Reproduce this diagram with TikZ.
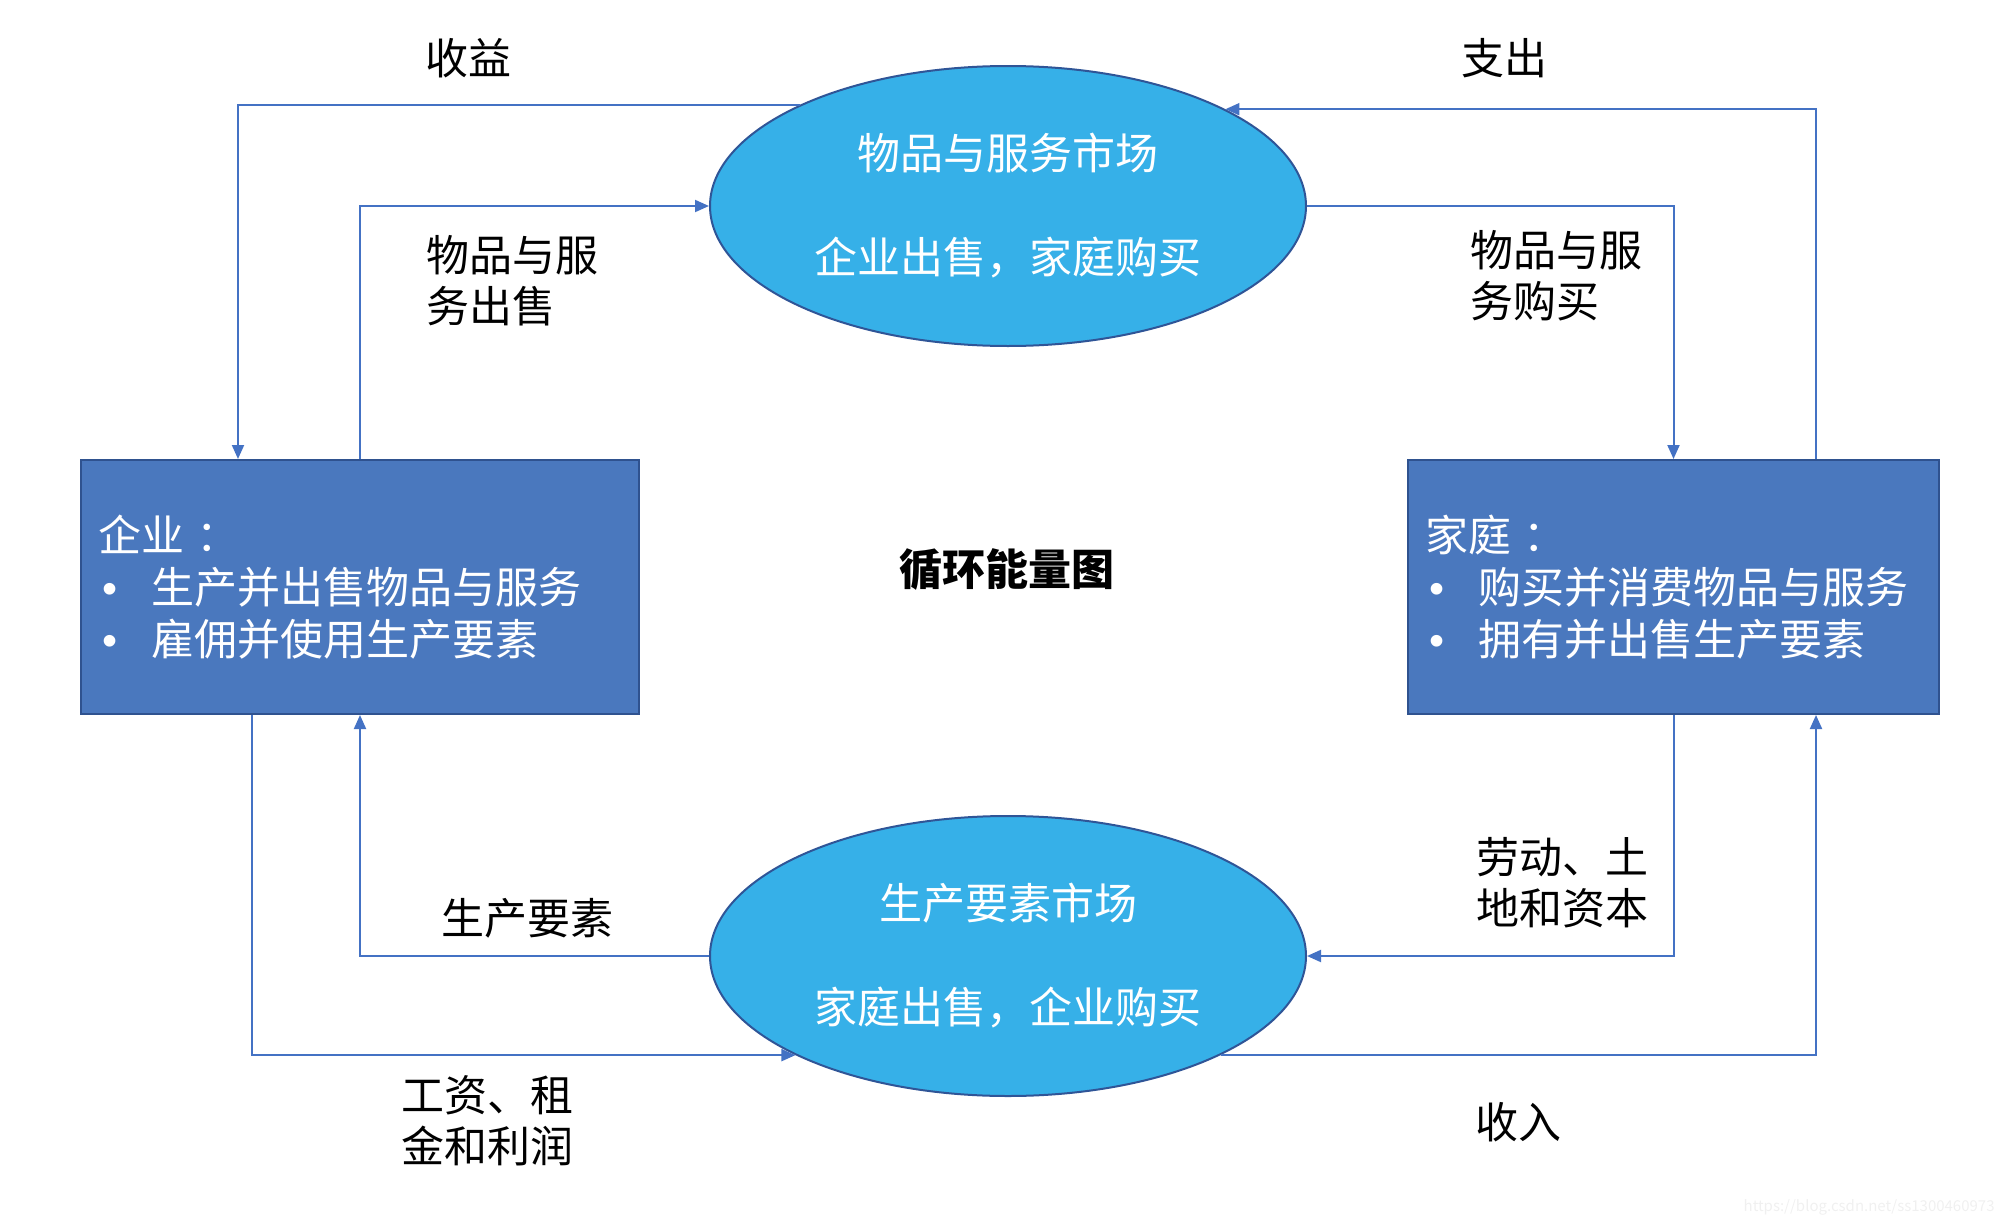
\documentclass[tikz,border=0pt]{standalone}
\usepackage{fontspec}
\setmainfont{Noto Sans CJK SC}
\newfontfamily\bulfont{Liberation Sans}
\usepackage{xcolor}
\usepackage{tikz}
\usetikzlibrary{positioning,arrows.meta,shapes.geometric}
\definecolor{mktblue}{RGB}{54,176,232}
\definecolor{mktline}{RGB}{47,85,151}
\definecolor{boxblue}{RGB}{74,120,190}
\definecolor{boxline}{RGB}{47,82,143}
\definecolor{flow}{RGB}{68,114,196}
\newcommand{\bul}{\makebox[26.5pt][l]{\hspace{2pt}\bulfont •}}

\begin{document}
\begin{tikzpicture}[x=0.5pt, y=-0.5pt,
  font=\fontsize{21.5pt}{26pt}\selectfont,
  mkt/.style={ellipse, draw=mktline, fill=mktblue, line width=1pt, minimum width=298pt, minimum height=140pt, inner sep=0pt, text=white, align=center},
  agent/.style={draw=boxline, fill=boxblue, line width=1pt, minimum height=127pt, inner xsep=8.75pt, text=white, align=left},
  lbl/.style={inner sep=0pt, align=left, font=\fontsize{21.5pt}{25.5pt}\selectfont},
  arr/.style={draw=flow, line width=1pt, -{Triangle[length=7pt, width=6pt]}}]
\useasboundingbox (0,0) rectangle (2004,1226);
\node[mkt] (goods) at (1008,206) {物品与服务市场\\[26pt]企业出售，家庭购买};
\node[mkt] (factor) at (1008,956) {生产要素市场\\[26pt]家庭出售，企业购买};
\node[agent, text width=261.5pt] (firm) at (360,587) {企业\hspace{6pt}：\\\bul 生产并出售物品与服务\\\bul 雇佣并使用生产要素};
\node[agent, text width=248pt] (house) at (1673.5,587) {家庭\hspace{6pt}：\\\bul 购买并消费物品与服务\\\bul 拥有并出售生产要素};
\node[font=\fontsize{21.5pt}{26pt}\selectfont\bfseries] (title) at (1007,569) {循环能量图};
\node[lbl] (rev) at (468,58) {收益};
\node[lbl] (spend) at (1504,58) {支出};
\node[lbl, anchor=west] (sold) at (426,281) {物品与服\\务出售};
\node[lbl, anchor=west] (bought) at (1470,276) {物品与服\\务购买};
\node[lbl] (fac) at (527,918) {生产要素};
\node[lbl, anchor=west] (labor) at (1476,883) {劳动、土\\地和资本};
\node[lbl, anchor=west] (wage) at (401,1121) {工资、租\\金和利润};
\node[lbl] (inc) at (1518,1122) {收入};
\node[inner sep=0pt, anchor=east, text=gray!12, font=\fontsize{7.5pt}{9pt}\selectfont] (url) at (1995,1207) {https://blog.csdn.net/ss1300460973};
\draw[arr] (goods.154) -| ([xshift=-61pt]firm.north);
\draw[arr] (firm.north) |- (goods.west);
\draw[arr] (goods.east) -| (house.north);
\draw[arr] ([xshift=71.25pt]house.north) |- (goods.24);
\draw[arr] (factor.west) -| (firm.south);
\draw[arr] ([xshift=-54pt]firm.south) |- (factor.205);
\draw[arr] (house.south) |- (factor.east);
\draw[arr] (factor.335) -| ([xshift=71.25pt]house.south);
\end{tikzpicture}
\end{document}
